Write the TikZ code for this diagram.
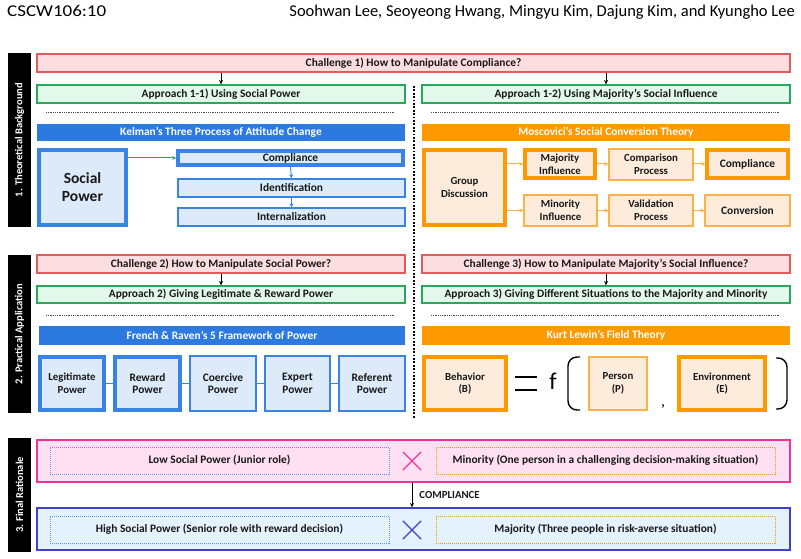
\documentclass[tikz,border=0pt]{standalone}
\usepackage{fontspec}
\setmainfont{Carlito}
\usetikzlibrary{arrows.meta,shapes.misc}
\definecolor{chalF}{RGB}{253,222,224}
\definecolor{chalD}{RGB}{226,90,90}
\definecolor{apprF}{RGB}{226,248,234}
\definecolor{apprD}{RGB}{40,168,90}
\definecolor{blueBar}{RGB}{44,122,224}
\definecolor{blueF}{RGB}{220,234,250}
\definecolor{blueD}{RGB}{56,132,228}
\definecolor{orBar}{RGB}{255,153,0}
\definecolor{orF}{RGB}{253,235,220}
\definecolor{orD}{RGB}{255,153,0}
\definecolor{orThin}{RGB}{250,178,70}
\definecolor{pinkF}{RGB}{255,224,242}
\definecolor{pinkD}{RGB}{240,50,150}
\definecolor{lbF}{RGB}{228,242,253}
\definecolor{lbD}{RGB}{64,64,204}
\definecolor{txt}{RGB}{25,25,25}
\newcommand\placebox[7]{%
  \node[#1, minimum width={(#5-#3)*1pt}, minimum height={(#6-#4)*1pt}] (#2) at ({(#3+#5)/2},{(#4+#6)/2}) {#7};}
\tikzset{
  base/.style={inner sep=0pt, align=center, text=txt, font=\fontsize{11.4}{12.8}\selectfont\bfseries},
  small/.style={font=\fontsize{10.8}{12.8}\selectfont\bfseries},
  chal/.style={base, draw=chalD, fill=chalF, line width=1.2pt},
  appr/.style={base, draw=apprD, fill=apprF, line width=1.2pt},
  bbar/.style={base, fill=blueBar, text=white},
  obar/.style={base, fill=orBar, text=white},
  bthin/.style={base, draw=blueD, fill=blueF, line width=1.3pt},
  bthick/.style={base, draw=blueD, fill=blueF, line width=3.6pt},
  othin/.style={base, draw=orThin, fill=orF, line width=1.3pt},
  othick/.style={base, draw=orD, fill=orF, line width=3.6pt},
  sidebar/.style={fill=black, inner sep=0pt},
  sidelbl/.style={rotate=90, text=white, font=\fontsize{10.5}{12}\selectfont\bfseries},
  pinkrow/.style={base, draw=pinkD, fill=pinkF, line width=1.3pt},
  bluerow/.style={base, draw=lbD, fill=lbF, line width=1.3pt},
  inblue/.style={base, draw=blueD!85, line width=0.9pt, dash pattern=on 1pt off 1pt},
  inorange/.style={base, draw=orD, line width=0.9pt, dash pattern=on 1pt off 1pt},
  arr/.style={-{Stealth[length=4.5pt,width=4pt]}, line width=0.9pt, black},
  barr/.style={-{Stealth[length=4pt,width=4pt]}, line width=1pt, blueD},
  oarr/.style={-{Stealth[length=4pt,width=4pt]}, line width=1pt, orThin},
  hsep/.style={line width=0.9pt, black!70, dash pattern=on 0.9pt off 0.9pt},
  vsep/.style={line width=2pt, black, dash pattern=on 1.8pt off 1.6pt},
  crossmark/.style={cross out, draw, line width=1.2pt, minimum size=17pt, inner sep=0pt},
  paren/.style={line width=1.4pt, black, rounded corners=9pt},
  hdr/.style={inner sep=0pt, text=black, font=\fontsize{16.5}{19}\selectfont},
}
\begin{document}
\begin{tikzpicture}[x=1pt,y=-1pt]
\useasboundingbox (0,0) rectangle (801,559);
\fill[white] (0,0) rectangle (801,559);

% header
\node[hdr, anchor=base west] (hd1) at (7,17) {\scalebox{1.15}[1]{CSCW106:10}};
\node[hdr, anchor=base east] (hd2) at (795,17) {Soohwan Lee, Seoyeong Hwang, Mingyu Kim, Dajung Kim, and Kyungho Lee};

% side bars
\placebox{sidebar}{s1}{8}{53}{31}{227}{}
\node[sidelbl] (s1t) at (s1.center) {1. Theoretical Background};
\placebox{sidebar}{s2}{8}{255}{31}{413}{}
\node[sidelbl] (s2t) at (s2.center) {2. Practical Application};
\placebox{sidebar}{s3}{8}{438}{31}{552}{}
\node[sidelbl] (s3t) at (s3.center) {3. Final Rationale};

% vertical separator
\draw[vsep] (414,86) -- (414,418);

% ===== Section 1 =====
\placebox{chal}{c1}{37}{54}{790}{72}{Challenge 1) How to Manipulate Compliance?}
\placebox{appr}{a11}{37}{85}{405}{103}{Approach 1-1) Using Social Power}
\placebox{appr}{a12}{422}{85}{790}{103}{Approach 1-2) Using Majority’s Social Influence}
\draw[arr] (a11.north |- c1.south) -- (a11.north);
\draw[arr] (a12.north |- c1.south) -- (a12.north);
\draw[hsep] (46,112) -- (395,112);
\draw[hsep] (431,112) -- (780,112);

\placebox{bbar}{kel}{37}{124}{405}{141}{Kelman’s Three Process of Attitude Change}
\placebox{bthick, font=\fontsize{15.5}{18}\selectfont\bfseries}{sp}{39}{150}{126}{225}{Social\\Power}
\placebox{bthick}{comp}{178}{151}{403}{165}{Compliance}
\placebox{bthin}{ident}{178}{179}{405}{197}{Identification}
\placebox{bthin}{intl}{178}{208}{405}{226}{Internalization}
\draw[barr] (sp.east |- comp.west) -- (comp.west);
\draw[barr] (comp.south) -- (ident.north);
\draw[barr] (ident.south) -- (intl.north);

\placebox{obar}{mos}{422}{124}{790}{141}{Moscovici’s Social Conversion Theory}
\placebox{othick, small}{gd}{424}{150}{505}{225}{Group\\Discussion}
\placebox{othick, small}{maj}{525}{150}{595}{178}{Majority\\Influence}
\placebox{othin, small}{cmpp}{609}{149}{693}{180}{Comparison\\Process}
\placebox{othick}{comp2}{707}{150}{788}{178}{Compliance}
\placebox{othin, small}{mino1}{524}{195}{597}{226}{Minority\\Influence}
\placebox{othin, small}{valp}{609}{195}{693}{226}{Validation\\Process}
\placebox{othin}{conv}{705}{195}{790}{226}{Conversion}
\draw[oarr] (gd.east |- maj.west) -- (maj.west);
\draw[oarr] (maj.east) -- (cmpp.west |- maj.east);
\draw[oarr] (cmpp.east |- comp2.west) -- (comp2.west);
\draw[oarr] (gd.east |- mino1.west) -- (mino1.west);
\draw[oarr] (mino1.east) -- (valp.west |- mino1.east);
\draw[oarr] (valp.east) -- (conv.west |- valp.east);

% ===== Section 2 =====
\placebox{chal}{c2}{37}{255}{405}{273}{Challenge 2) How to Manipulate Social Power?}
\placebox{appr}{a2}{37}{286}{405}{303}{Approach 2) Giving Legitimate \& Reward Power}
\draw[arr] (c2.south) -- (a2.north);
\draw[hsep] (46,315) -- (395,315);
\placebox{bbar}{fr}{39}{326}{405}{345}{French \& Raven’s 5 Framework of Power}
\placebox{bthick, small}{leg}{40}{357}{104}{410}{Legitimate\\Power}
\placebox{bthick}{rew}{115}{357}{180}{410}{Reward\\Power}
\placebox{bthin}{coe}{190}{356}{256}{411}{Coercive\\Power}
\placebox{bthin}{expp}{265}{356}{330}{411}{Expert\\Power}
\placebox{bthin}{refp}{339}{356}{405}{411}{Referent\\Power}
\draw[blueD, line width=1.3pt] (leg) -- (rew);
\draw[blueD, line width=1.3pt] (rew) -- (coe);
\draw[blueD, line width=1.3pt] (coe) -- (expp);
\draw[blueD, line width=1.3pt] (expp) -- (refp);

\placebox{chal}{c3}{422}{255}{790}{273}{Challenge 3) How to Manipulate Majority’s Social Influence?}
\placebox{appr}{a3}{422}{286}{790}{303}{Approach 3) Giving Different Situations to the Majority and Minority}
\draw[arr] (c3.south) -- (a3.north);
\draw[hsep] (431,315) -- (780,315);
\placebox{obar}{kl}{422}{326}{790}{345}{Kurt Lewin’s Field Theory}
\placebox{othick, small}{beh}{424}{357}{506}{410}{Behavior\\(B)}
\placebox{othin, small, line width=1.8pt}{pers}{589}{357}{647}{410}{Person\\(P)}
\placebox{othick, small}{envr}{679}{357}{765}{410}{Environment\\(E)}
\draw[line width=1.3pt] (515,377) -- (537,377);
\draw[line width=1.3pt] (515,390) -- (537,390);
\node[font=\fontsize{24}{26}\selectfont, inner sep=0pt] (ff) at (553,381) {f};
\draw[paren] (580,357) -- (568,357) -- (568,410) -- (580,410);
\draw[paren] (776,358) -- (787,358) -- (787,409) -- (776,409);
\node[font=\fontsize{16}{18}\selectfont, inner sep=0pt, anchor=base] (cm) at (663,406) {,};

% ===== Section 3 =====
\placebox{pinkrow}{r1}{37}{440}{790}{482}{}
\placebox{inblue}{low}{50}{447}{389}{474}{Low Social Power (Junior role)}
\placebox{inorange}{minr}{436}{447}{775}{474}{Minority (One person in a challenging decision-making situation)}
\node[crossmark, draw=pinkD] (x1) at (412,461) {};
\placebox{bluerow}{r2}{37}{508}{790}{550}{}
\placebox{inblue}{high}{50}{516}{389}{543}{High Social Power (Senior role with reward decision)}
\placebox{inorange}{majr}{436}{516}{775}{543}{Majority (Three people in risk-averse situation)}
\node[crossmark, draw=lbD] (x2) at (412,530) {};
\draw[arr] (r1.south -| x1) -- (r2.north -| x1)
  node[midway, anchor=west, xshift=7pt, base, font=\fontsize{10.8}{12}\selectfont\bfseries] (cl) {COMPLIANCE};
\end{tikzpicture}
\end{document}
